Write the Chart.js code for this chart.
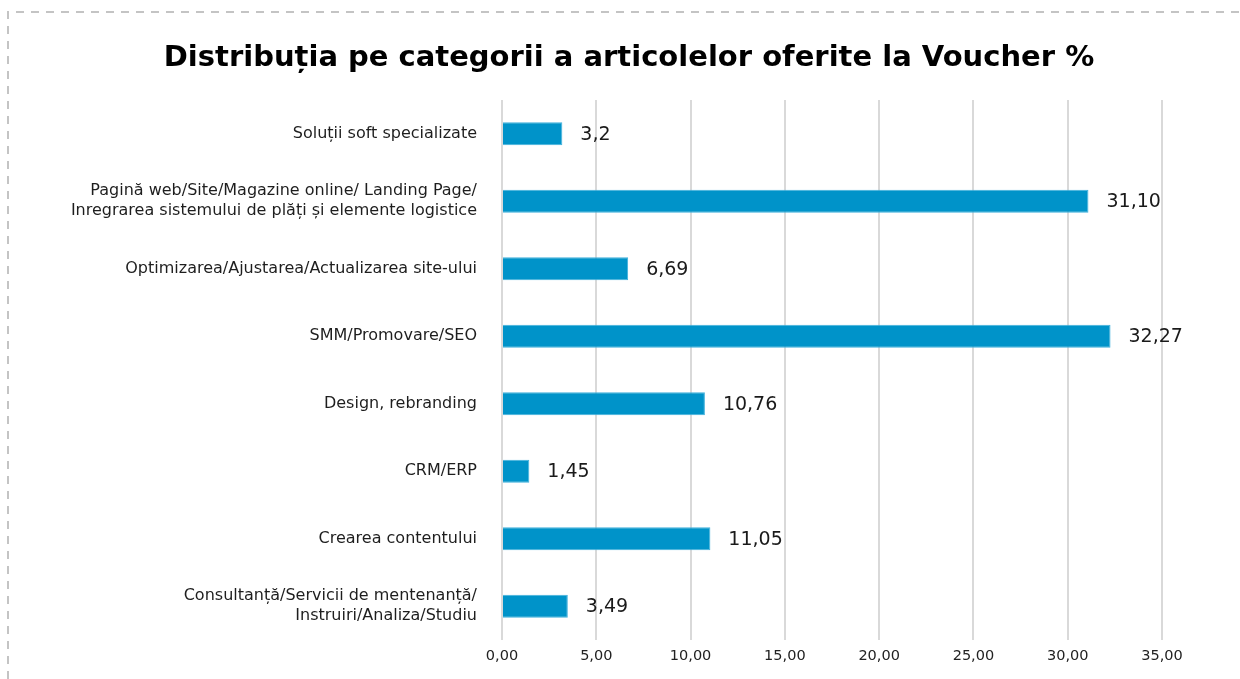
<!DOCTYPE html>
<html>
<head>
<meta charset="utf-8">
<script src="https://cdn.jsdelivr.net/npm/chart.js@4.4.1/dist/chart.umd.min.js"></script>
<style>
  html, body { margin: 0; padding: 0; background: #fff; }
  #wrap { width: 1240px; height: 679px; position: relative; }
</style>
</head>
<body>
<div id="wrap"><canvas id="chart"></canvas></div>
<script>
let chartTitle = "Distribuția pe categorii a articolelor oferite la Voucher %";

// categories (top to bottom)
let categories = [
  "Soluții soft specializate",
  ["Pagină web/Site/Magazine online/ Landing Page/", "Inregrarea sistemului de plăți și elemente logistice"],
  "Optimizarea/Ajustarea/Actualizarea site-ului",
  "SMM/Promovare/SEO",
  "Design, rebranding",
  "CRM/ERP",
  "Crearea contentului",
  ["Consultanță/Servicii de mentenanță/", "Instruiri/Analiza/Studiu"]
];
let values = [3.2, 31.10, 6.69, 32.27, 10.76, 1.45, 11.05, 3.49];
let valueLabels = ["3,2", "31,10", "6,69", "32,27", "10,76", "1,45", "11,05", "3,49"];

const FONT = "'DejaVu Sans', sans-serif";

// dashed frame on top and left + title
const framePlugin = {
  id: "frame",
  beforeDraw(chart) {
    let ctx = chart.ctx;
    ctx.save();
    ctx.strokeStyle = "#c4c4c4";
    ctx.lineWidth = 2;
    ctx.setLineDash([8, 7]);
    ctx.beginPath();
    ctx.moveTo(8, 679);
    ctx.lineTo(8, 12);
    ctx.lineTo(1240, 12);
    ctx.stroke();

    ctx.setLineDash([]);
    ctx.font = "bold 29px " + FONT;
    ctx.fillStyle = "#000";
    ctx.textAlign = "center";
    ctx.textBaseline = "middle";
    ctx.fillText(chartTitle, 629, 58);
    ctx.restore();
  }
};

// value labels right of the bars
const valuePlugin = {
  id: "values",
  afterDatasetsDraw(chart) {
    let ctx = chart.ctx;
    let meta = chart.getDatasetMeta(0);
    ctx.save();
    ctx.font = "19px " + FONT;
    ctx.fillStyle = "#1a1a1a";
    ctx.textAlign = "left";
    ctx.textBaseline = "middle";
    meta.data.forEach((bar, i) => {
      ctx.fillText(valueLabels[i], bar.x + 18, bar.y + 1);
    });
    ctx.restore();
  }
};

new Chart(document.getElementById("chart"), {
  type: "bar",
  data: {
    labels: categories,
    datasets: [{
      data: values,
      backgroundColor: "#0093c9",
      borderColor: "#3fb0dc",
      borderWidth: 1,
      categoryPercentage: 1,
      barPercentage: 0.34
    }]
  },
  options: {
    indexAxis: "y",
    responsive: true,
    maintainAspectRatio: false,
    animation: false,
    layout: { padding: { left: 20, right: 78, top: 100, bottom: 0 } },
    plugins: {
      legend: { display: false },
      tooltip: { enabled: false },
      title: { display: false }
    },
    scales: {
      x: {
        min: 0,
        max: 35,
        ticks: {
          stepSize: 5,
          color: "#222",
          padding: 8,
          font: { family: FONT, size: 14.5 },
          callback: v => v.toFixed(2).replace(".", ",")
        },
        grid: { color: "#d9d9d9", lineWidth: 2, drawTicks: false },
        border: { display: false },
        afterFit(scale) { scale.height = 39; }
      },
      y: {
        ticks: {
          color: "#1e1e1e",
          padding: 17,
          font: { family: FONT, size: 16, lineHeight: 1.25 }
        },
        grid: { display: false },
        border: { display: false },
        afterFit(scale) { scale.width = 482; }
      }
    }
  },
  plugins: [framePlugin, valuePlugin]
});
</script>
</body>
</html>
